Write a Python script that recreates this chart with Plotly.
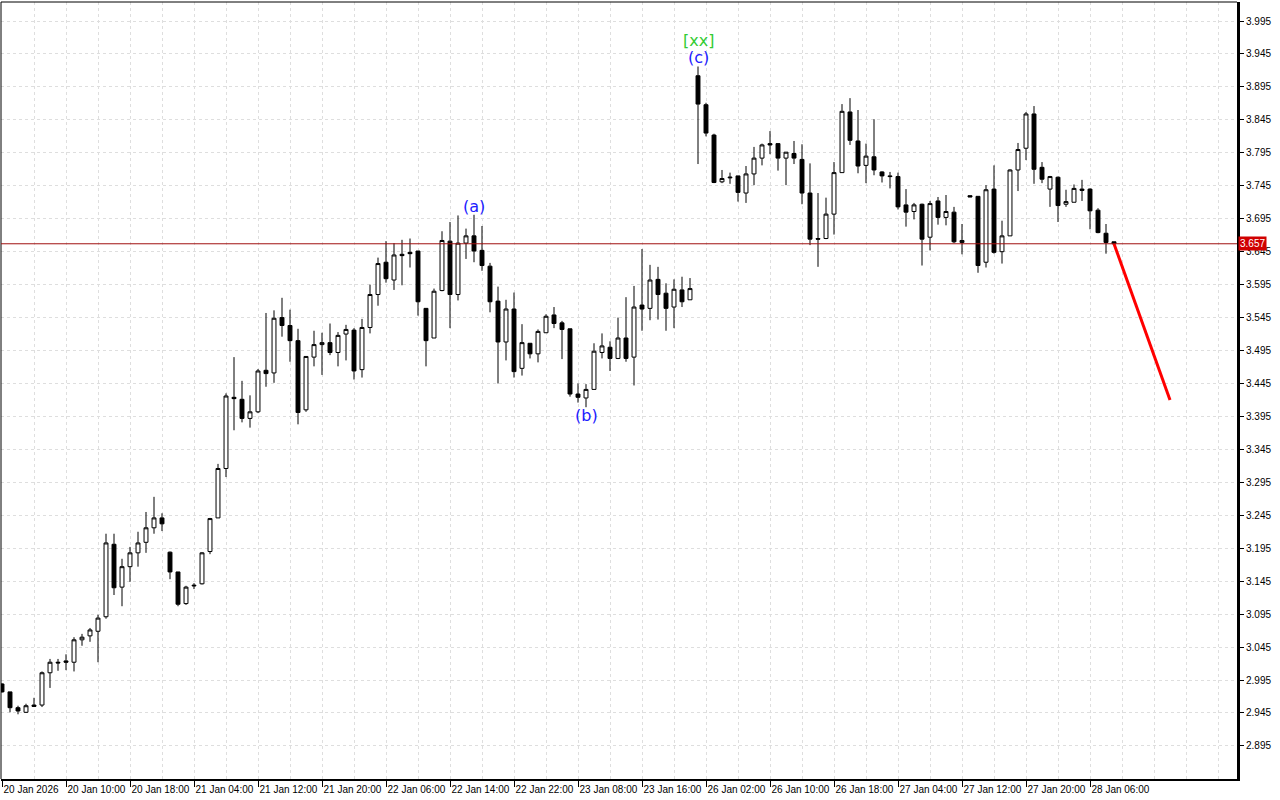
import plotly.graph_objects as go

# ---- data ----
bar_index = list(range(140))

open_ = [2.989, 2.977, 2.953, 2.946, 2.957, 2.957, 3.006, 3.022, 3.024, 3.022,
         3.056, 3.062, 3.069, 3.091, 3.201, 3.136, 3.167, 3.188, 3.204, 3.226,
         3.241, 3.189, 3.159, 3.111, 3.139, 3.141, 3.190, 3.241, 3.316, 3.424,
         3.421, 3.392, 3.402, 3.465, 3.461, 3.545, 3.533, 3.510, 3.405, 3.485,
         3.504, 3.507, 3.492, 3.520, 3.526, 3.466, 3.530, 3.580, 3.629, 3.602,
         3.641, 3.644, 3.646, 3.559, 3.514, 3.586, 3.661, 3.580, 3.658, 3.669,
         3.647, 3.623, 3.570, 3.508, 3.558, 3.468, 3.506, 3.490, 3.522, 3.549,
         3.537, 3.528, 3.429, 3.423, 3.436, 3.492, 3.500, 3.483, 3.514, 3.485,
         3.564, 3.559, 3.603, 3.582, 3.561, 3.587, 3.572, 3.912, 3.868, 3.822,
         3.751, 3.757, 3.760, 3.734, 3.763, 3.787, 3.809, 3.809, 3.787, 3.794,
         3.785, 3.734, 3.665, 3.665, 3.702, 3.765, 3.857, 3.813, 3.776, 3.789,
         3.766, 3.760, 3.759, 3.716, 3.706, 3.717, 3.667, 3.722, 3.697, 3.705,
         3.659, 3.730, 3.729, 3.629, 3.740, 3.645, 3.669, 3.769, 3.802, 3.854,
         3.773, 3.740, 3.758, 3.717, 3.720, 3.740, 3.740, 3.708, 3.673, 3.660]

high = [2.990, 2.977, 2.956, 2.959, 2.968, 3.008, 3.027, 3.027, 3.034, 3.060,
        3.065, 3.074, 3.094, 3.217, 3.217, 3.179, 3.197, 3.220, 3.250, 3.273,
        3.248, 3.190, 3.159, 3.138, 3.142, 3.189, 3.241, 3.323, 3.430, 3.485,
        3.449, 3.427, 3.467, 3.552, 3.556, 3.575, 3.557, 3.528, 3.486, 3.525,
        3.522, 3.536, 3.523, 3.534, 3.529, 3.543, 3.595, 3.636, 3.661, 3.658,
        3.663, 3.665, 3.646, 3.559, 3.589, 3.676, 3.690, 3.700, 3.680, 3.701,
        3.684, 3.628, 3.592, 3.572, 3.583, 3.535, 3.506, 3.527, 3.550, 3.561,
        3.540, 3.528, 3.445, 3.444, 3.506, 3.521, 3.509, 3.545, 3.576, 3.593,
        3.649, 3.625, 3.622, 3.597, 3.603, 3.607, 3.605, 3.926, 3.871, 3.824,
        3.769, 3.765, 3.760, 3.775, 3.804, 3.809, 3.828, 3.809, 3.796, 3.813,
        3.808, 3.779, 3.734, 3.727, 3.781, 3.869, 3.878, 3.860, 3.809, 3.846,
        3.767, 3.766, 3.765, 3.740, 3.719, 3.718, 3.722, 3.728, 3.731, 3.713,
        3.687, 3.730, 3.729, 3.746, 3.776, 3.692, 3.770, 3.810, 3.857, 3.866,
        3.781, 3.760, 3.759, 3.739, 3.747, 3.754, 3.741, 3.711, 3.687, 3.660]

low = [2.976, 2.946, 2.943, 2.945, 2.954, 2.954, 2.983, 3.009, 3.010, 3.008,
       3.047, 3.053, 3.022, 3.088, 3.124, 3.107, 3.144, 3.167, 3.188, 3.217,
       3.221, 3.148, 3.107, 3.109, 3.133, 3.140, 3.186, 3.241, 3.303, 3.374,
       3.386, 3.378, 3.400, 3.440, 3.446, 3.516, 3.478, 3.383, 3.402, 3.471,
       3.458, 3.488, 3.471, 3.480, 3.451, 3.454, 3.521, 3.563, 3.598, 3.587,
       3.594, 3.621, 3.548, 3.471, 3.514, 3.585, 3.529, 3.571, 3.634, 3.629,
       3.616, 3.553, 3.445, 3.480, 3.454, 3.457, 3.483, 3.477, 3.522, 3.529,
       3.482, 3.425, 3.416, 3.409, 3.436, 3.483, 3.464, 3.482, 3.478, 3.442,
       3.525, 3.541, 3.542, 3.525, 3.529, 3.561, 3.572, 3.778, 3.820, 3.749,
       3.749, 3.748, 3.721, 3.719, 3.746, 3.776, 3.793, 3.768, 3.746, 3.778,
       3.717, 3.655, 3.622, 3.664, 3.671, 3.765, 3.807, 3.764, 3.749, 3.761,
       3.750, 3.741, 3.709, 3.683, 3.694, 3.624, 3.647, 3.686, 3.685, 3.658,
       3.641, 3.728, 3.613, 3.621, 3.642, 3.627, 3.669, 3.737, 3.784, 3.748,
       3.749, 3.713, 3.690, 3.713, 3.720, 3.722, 3.679, 3.673, 3.642, 3.656]

close = [2.977, 2.953, 2.948, 2.956, 2.955, 3.006, 3.022, 3.021, 3.022, 3.056,
         3.060, 3.071, 3.089, 3.203, 3.135, 3.167, 3.188, 3.203, 3.226, 3.241,
         3.232, 3.159, 3.110, 3.136, 3.138, 3.188, 3.240, 3.316, 3.426, 3.422,
         3.392, 3.402, 3.464, 3.460, 3.544, 3.533, 3.510, 3.401, 3.486, 3.504,
         3.507, 3.492, 3.518, 3.527, 3.464, 3.530, 3.580, 3.627, 3.604, 3.640,
         3.639, 3.642, 3.569, 3.510, 3.585, 3.662, 3.580, 3.658, 3.669, 3.646,
         3.624, 3.569, 3.508, 3.558, 3.463, 3.507, 3.490, 3.524, 3.547, 3.536,
         3.527, 3.429, 3.424, 3.436, 3.494, 3.502, 3.483, 3.514, 3.483, 3.561,
         3.558, 3.602, 3.580, 3.559, 3.588, 3.569, 3.589, 3.869, 3.825, 3.750,
         3.756, 3.758, 3.735, 3.763, 3.787, 3.807, 3.807, 3.787, 3.796, 3.787,
         3.734, 3.664, 3.664, 3.702, 3.765, 3.858, 3.814, 3.775, 3.790, 3.769,
         3.760, 3.759, 3.713, 3.705, 3.716, 3.664, 3.718, 3.697, 3.706, 3.660,
         3.662, 3.728, 3.624, 3.739, 3.644, 3.669, 3.769, 3.800, 3.854, 3.770,
         3.755, 3.759, 3.715, 3.721, 3.741, 3.738, 3.707, 3.674, 3.659, 3.657]

tick_positions = [0, 8, 16, 24, 32, 40, 48, 56, 64, 72, 80, 88, 96, 104, 112, 120, 128, 136]
tick_labels = ["20 Jan 2026", "20 Jan 10:00", "20 Jan 18:00", "21 Jan 04:00",
               "21 Jan 12:00", "21 Jan 20:00", "22 Jan 06:00", "22 Jan 14:00",
               "22 Jan 22:00", "23 Jan 08:00", "23 Jan 16:00", "26 Jan 02:00",
               "26 Jan 10:00", "26 Jan 18:00", "27 Jan 04:00", "27 Jan 12:00",
               "27 Jan 20:00", "28 Jan 06:00"]
grid_minor_positions = [4, 12, 20, 28, 36, 44, 52, 60, 68, 76, 84, 92, 100, 108,
                        116, 124, 132, 140, 144, 148, 152]
price_ticks = [2.895, 2.945, 2.995, 3.045, 3.095, 3.145, 3.195, 3.245, 3.295,
               3.345, 3.395, 3.445, 3.495, 3.545, 3.595, 3.645, 3.695, 3.745,
               3.795, 3.845, 3.895, 3.945, 3.995]

forecast_x = [139, 146]
forecast_y = [3.657, 3.420]

wave_text = ["(a)", "(b)", "(c)", "[xx]"]
wave_x = [59, 73, 87, 87]
wave_y = [3.713, 3.396, 3.939, 3.966]
wave_color = ["#2020FF", "#2020FF", "#2020FF", "#33CC33"]

last_price = 3.657

# ---- figure ----
fig = go.Figure()
fig.add_trace(go.Candlestick(
    x=bar_index, open=open_, high=high, low=low, close=close,
    increasing=dict(line=dict(color="black", width=1), fillcolor="white"),
    decreasing=dict(line=dict(color="black", width=1), fillcolor="black"),
    whiskerwidth=0, showlegend=False, hoverinfo="skip"))

fig.add_trace(go.Scatter(x=forecast_x, y=forecast_y, mode="lines",
                         line=dict(color="#FF0000", width=3),
                         showlegend=False, hoverinfo="skip"))

for t, xv, yv, c in zip(wave_text, wave_x, wave_y, wave_color):
    fig.add_annotation(x=xv, y=yv, text=t, showarrow=False,
                       font=dict(family="DejaVu Sans", size=16, color=c))

grid_color = "#dedede"
fig.update_layout(
    width=1280, height=800,
    margin=dict(l=1, r=43, t=2, b=21, autoexpand=False),
    paper_bgcolor="white", plot_bgcolor="white",
    showlegend=False,
    font=dict(family="Liberation Sans", size=10, color="black"),
    xaxis=dict(
        range=[-0.125, 154.375], rangeslider=dict(visible=False),
        automargin=False, tickangle=0,
        tickmode="array", tickvals=tick_positions, ticktext=tick_labels,
        ticks="outside", ticklen=6, tickcolor="black", tickwidth=1,
        ticklabelposition="outside right",
        showline=True, linecolor="black", linewidth=2,
        showgrid=True, gridcolor=grid_color, griddash="3px,3px", gridwidth=1,
        zeroline=False,
        minor=dict(tickmode="array", tickvals=grid_minor_positions, showgrid=True,
                   gridcolor=grid_color, griddash="3px,3px", gridwidth=1, ticks=""),
        tickfont=dict(family="Liberation Sans", size=10, color="black"),
    ),
    yaxis=dict(
        side="right", range=[2.8448, 4.0239], automargin=False,
        tickmode="array", tickvals=price_ticks, tickformat=".3f",
        ticks="outside", ticklen=4, tickcolor="black",
        showline=True, linecolor="black", linewidth=3,
        showgrid=True, gridcolor=grid_color, griddash="3px,3px", gridwidth=1,
        zeroline=False,
        tickfont=dict(family="Liberation Sans", size=10, color="black"),
    ),
)

# frame top/left
fig.add_shape(type="line", xref="paper", yref="paper", x0=0, x1=1, y0=1, y1=1,
              line=dict(color="black", width=1))
fig.add_shape(type="line", xref="paper", yref="paper", x0=0, x1=0, y0=0, y1=1,
              line=dict(color="black", width=1))
# last price line
fig.add_shape(type="line", xref="paper", yref="y", x0=0, x1=1, y0=last_price, y1=last_price,
              line=dict(color="#A01010", width=1))
fig.add_annotation(xref="paper", x=1, xanchor="left", xshift=1, y=last_price,
                   text=f"{last_price:.3f}", showarrow=False, bgcolor="#D00000",
                   borderpad=1, font=dict(family="Liberation Sans", size=10, color="white"))

fig.write_html("out.html", config={"displayModeBar": False},
               post_script="document.body.style.margin='0';document.body.style.overflow='hidden';")
